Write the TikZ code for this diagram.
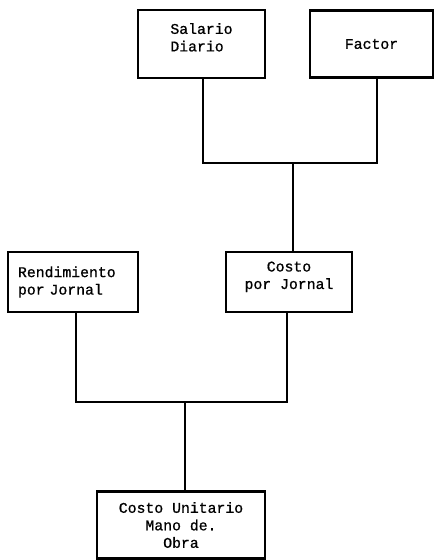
\documentclass[tikz,border=0pt]{standalone}
\usepackage{fontspec}
% typewriter lettering, slightly emboldened
\newfontfamily\typewriter{Liberation Mono}[FakeBold=0.9]
\begin{document}
\begin{tikzpicture}[x=1pt,y=-1pt,
  box/.style={draw=black, line width=2.8pt, inner sep=0pt,
    font=\typewriter\fontsize{14.8}{17.5}\selectfont},
  link/.style={draw=black, line width=2.8pt, line join=miter}]
\useasboundingbox (0,0) rectangle (436,560);
% input boxes
\node[box, minimum width=127pt, minimum height=68pt, align=left] (sal) at (201.5,44) {Salario\\Diario\\[-4pt]};
\node[box, minimum width=123pt, minimum height=67pt] (fac) at (371.5,44) {Factor};
\node[box, minimum width=130pt, minimum height=60pt, text width=110pt, align=left] (ren) at (73,282) {Rendimiento\\por Jornal\\[-4pt]};
\node[box, minimum width=126pt, minimum height=60pt, align=center] (cpj) at (289,282) {Costo\\por Jornal\\[-4pt]};
\node[box, minimum width=168pt, minimum height=67pt, align=center] (cu) at (181,525) {Costo Unitario\\Mano de.\\Obra};
% junction points of the bracket connectors
\coordinate (j1) at (293,163);
\coordinate (j2) at (185,402);
% first bracket: salary and factor give cost per day
\draw[link] ([xshift=1.5pt]sal.south) |- (j1) -| ([xshift=5.5pt]fac.south);
\draw[link] (j1) -- (j1 |- cpj.north);
% second bracket: yield and cost per day give unit cost
\draw[link] ([xshift=3pt]ren.south) |- (j2) -| ([xshift=-2pt]cpj.south);
\draw[link] (j2) -- (j2 |- cu.north);
\end{tikzpicture}
\end{document}
